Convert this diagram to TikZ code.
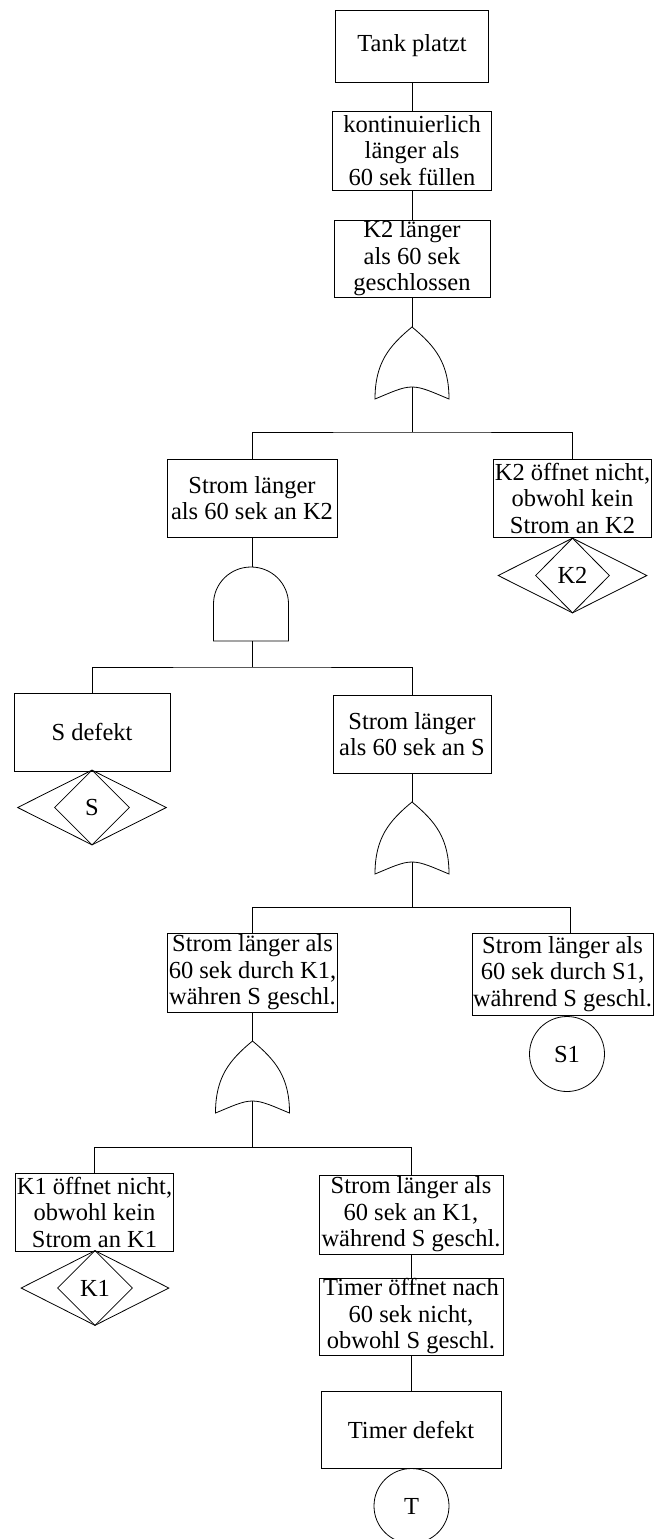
\documentclass[tikz,border=0pt]{standalone}
\usepackage{fontspec}
\setmainfont{Liberation Serif}
\usetikzlibrary{shapes.geometric}
\tikzset{
  txt/.style={font=\fontsize{24.5}{26.5}\selectfont},
  box/.style={txt, draw, rectangle, inner sep=0pt, inner xsep=1pt, align=center},
  dia/.style={txt, draw, diamond, inner sep=0pt, minimum height=75pt},
  evt/.style={txt, draw, circle, inner sep=0pt, minimum size=75pt},
  orgate/.pic={
    \draw (-37,72) .. controls (-37,36) and (-23,19) .. (0,0)
          .. controls (23,19) and (37,36) .. (37,72)
          .. controls (20,65) and (10,60) .. (0,60)
          .. controls (-10,60) and (-20,65) .. cycle;
    \coordinate (-top) at (0,0);
    \coordinate (-bot) at (0,60);
  },
  andgate/.pic={
    \draw (-37.5,74) -- (-37.5,37) .. controls (-37.5,16.5) and (-20.7,0) .. (0,0)
          .. controls (20.7,0) and (37.5,16.5) .. (37.5,37) -- (37.5,74) -- cycle;
    \coordinate (-top) at (0,0);
    \coordinate (-bot) at (0,74);
  }
}
\begin{document}
\begin{tikzpicture}[x=1pt, y=-1pt, line width=0.8pt]
\useasboundingbox (0,0) rectangle (654,1539);

\node[box, minimum width=153pt, minimum height=72pt] (b1) at (412,46) {Tank platzt};
\node[box, minimum width=159pt, minimum height=79pt] (b2) at (412,150.5) {kontinuierlich\\länger als\\60 sek füllen};
\node[box, minimum width=156pt, minimum height=77pt] (b3) at (412,258.5) {K2 länger\\als 60 sek\\geschlossen};
\pic (g1) at (412,327) {orgate};

\node[box, minimum width=170pt, minimum height=78pt] (b4) at (252,498) {Strom länger\\als 60 sek an K2};
\node[box, minimum width=157pt, minimum height=78pt] (b5) at (572.5,498) {K2 öffnet nicht,\\obwohl kein\\Strom an K2};
\node[dia, minimum width=149pt] (d5o) at (572.5,575.5) {};
\node[dia, minimum width=74pt] (d5) at (572.5,575.5) {K2};
\pic (g2) at (251,567) {andgate};

\node[box, minimum width=156pt, minimum height=78pt] (b6) at (92,732) {S defekt};
\node[dia, minimum width=149pt] (d6o) at (92,807.5) {};
\node[dia, minimum width=75pt] (d6) at (92,807.5) {S};
\node[box, minimum width=158pt, minimum height=78pt] (b7) at (412,734) {Strom länger\\als 60 sek an S};
\pic (g3) at (412,802) {orgate};

\node[box, minimum width=165pt, minimum height=79pt] (b8) at (252.5,972.5) {Strom länger als\\60 sek durch K1,\\währen S geschl.};
\pic (g4) at (252.5,1041) {orgate};
\node[box, minimum width=179pt, minimum height=82pt] (b9) at (562.5,974) {Strom länger als\\60 sek durch S1,\\während S geschl.};
\node[evt] (c9) at (567,1054) {S1};

\node[box, minimum width=157pt, minimum height=78pt] (b10) at (94.5,1212) {K1 öffnet nicht,\\obwohl kein\\Strom an K1};
\node[dia, minimum width=148pt] (d10o) at (95,1288) {};
\node[dia, minimum width=75pt] (d10) at (95,1288) {K1};
\node[box, minimum width=184pt, minimum height=79pt] (b11) at (411,1214.5) {Strom länger als\\60 sek an K1,\\während S geschl.};
\node[box, minimum width=184pt, minimum height=77pt] (b12) at (411,1316.5) {Timer öffnet nach\\60 sek nicht,\\obwohl S geschl.};
\node[box, minimum width=180pt, minimum height=77pt] (b13) at (411,1429.5) {Timer defekt};
\node[evt] (c13) at (411.5,1506) {T};

\coordinate (j1) at (412,432);
\coordinate (j2) at (252,667);
\coordinate (j3) at (412,907);
\coordinate (j4) at (252.5,1147);

\draw (b1) -- (b2);
\draw (b2) -- (b3);
\draw (b3.south) -- (g1-top);
\draw (g1-bot) -- (j1);
\draw (b4.north) |- (j1) -| (b5.north);
\draw (b4.south) -- (b4.south |- g2-top);
\draw (g2-bot -| j2) -- (j2);
\draw (b6.north) |- (j2) -| (b7.north);
\draw (b7.south) -- (g3-top);
\draw (g3-bot) -- (j3);
\draw (b8.north) |- (j3) -| ([xshift=7.5pt]b9.north);
\draw (b8.south) -- (g4-top);
\draw (g4-bot) -- (j4);
\draw (b10.north) |- (j4) -| (b11.north);
\draw (b11) -- (b12);
\draw (b12) -- (b13);
\end{tikzpicture}
\end{document}
